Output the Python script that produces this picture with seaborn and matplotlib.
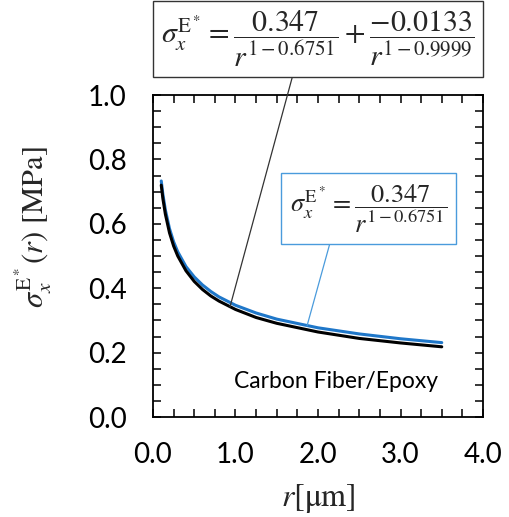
import matplotlib
matplotlib.use("Agg")
import matplotlib.pyplot as plt
import seaborn as sns
import pandas as pd
from matplotlib.ticker import MultipleLocator

# Values
r_vals = [0.10, 0.12, 0.15, 0.20, 0.25, 0.30, 0.40, 0.50, 0.60, 0.70, 0.80,
          1.00, 1.25, 1.50, 2.00, 2.50, 3.00, 3.50]
sigma_two_term = [0.720, 0.678, 0.630, 0.572, 0.531, 0.500, 0.454, 0.421, 0.396,
                  0.376, 0.360, 0.334, 0.309, 0.291, 0.264, 0.244, 0.230, 0.218]
sigma_one_term = [0.733, 0.691, 0.643, 0.585, 0.544, 0.513, 0.467, 0.435, 0.410,
                  0.390, 0.373, 0.347, 0.323, 0.304, 0.277, 0.258, 0.243, 0.231]
x_ticks = [0.0, 1.0, 2.0, 3.0, 4.0]
y_ticks = [0.0, 0.2, 0.4, 0.6, 0.8, 1.0]
material = "Carbon Fiber/Epoxy"

sns.set_theme(style="ticks")
plt.rcParams['font.family'] = ['Lato', 'DejaVu Sans']
plt.rcParams['mathtext.fontset'] = 'stix'

df = pd.DataFrame({"r": r_vals, "two": sigma_two_term, "one": sigma_one_term})

fig = plt.figure(figsize=(5.1, 5.17), dpi=100)
ax = fig.add_axes([153/510, 1-417/517, 330/510, 322/517])

blue = "#1f77c9"
sns.lineplot(data=df, x="r", y="one", ax=ax, color=blue, lw=2.2)
sns.lineplot(data=df, x="r", y="two", ax=ax, color="black", lw=2.2)

ax.set_xlim(0, 4)
ax.set_ylim(0, 1)
ax.set_xticks(x_ticks)
ax.set_yticks(y_ticks)
ax.set_xticklabels([f"{v:.1f}" for v in x_ticks])
ax.set_yticklabels([f"{v:.1f}" for v in y_ticks])
ax.xaxis.set_minor_locator(MultipleLocator(0.25))
ax.yaxis.set_minor_locator(MultipleLocator(0.05))
ax.tick_params(which="both", direction="in", top=True, right=True,
               length=5.5, width=1.1, color="black")
ax.tick_params(axis="x", which="major", labelsize=20, pad=18, labelcolor="black")
ax.tick_params(axis="y", which="major", labelsize=20, pad=19, labelcolor="black")
for s in ax.spines.values():
    s.set_linewidth(1.3)
    s.set_color("black")

ax.set_xlabel(r"$r[\mathrm{\mu m}]$", fontsize=23, labelpad=10)
ax.set_ylabel(r"$\sigma_x^{\mathrm{E}^*}(r)\ [\mathrm{MPa}]$", fontsize=22)
ax.yaxis.set_label_coords(-0.30, 0.59)

ax.text(0.555, 0.11, material, transform=ax.transAxes, fontsize=16.5,
        ha="center", va="center", color="black")

eq_top = (r"$\sigma_x^{\mathrm{E}^*} = \dfrac{0.347}{r^{1-0.6751}}"
          r" + \dfrac{-0.0133}{r^{1-0.9999}}$")
eq_blue = r"$\sigma_x^{\mathrm{E}^*} = \dfrac{0.347}{r^{1-0.6751}}$"

ax.annotate(eq_top, xy=(r_vals[11] - 0.067, 0.342), xycoords="data",
            xytext=(318/510, 1-39/517), textcoords="figure fraction",
            ha="center", va="center", fontsize=21.5, annotation_clip=False,
            bbox=dict(boxstyle="square,pad=0.28", fc="white", ec="#333333", lw=1.0),
            arrowprops=dict(arrowstyle="-", color="#333333", lw=0.9,
                            relpos=(0.425, 0.0), shrinkA=0, shrinkB=0))
ax.annotate(eq_blue, xy=(1.867, 0.283), xycoords="data",
            xytext=(368.5/510, 1-208.5/517), textcoords="figure fraction",
            ha="center", va="center", fontsize=19, annotation_clip=False,
            bbox=dict(boxstyle="square,pad=0.35", fc="white", ec="#4a9bdc", lw=1.0),
            arrowprops=dict(arrowstyle="-", color="#4a9bdc", lw=0.9,
                            relpos=(0.27, 0.0), shrinkA=0, shrinkB=0))

fig.savefig("out.png", dpi=100)
